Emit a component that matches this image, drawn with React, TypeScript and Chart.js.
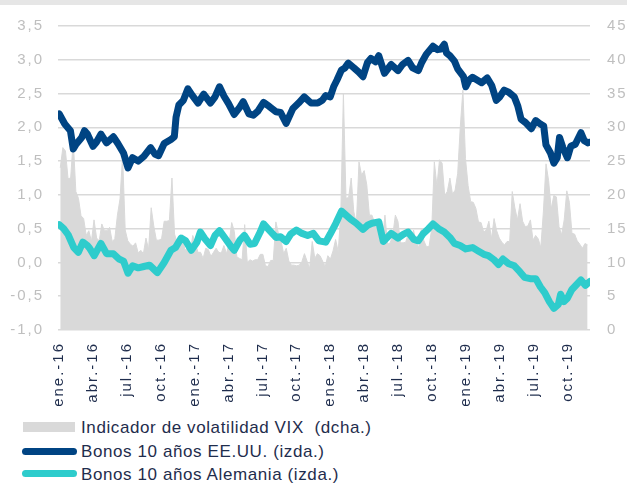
import React, { useEffect, useRef } from 'react';
import { Chart, registerables } from 'chart.js';

Chart.register(...registerables);

// X axis: months since January 2016
const TICK_MONTHS = [0, 3, 6, 9, 12, 15, 18, 21, 24, 27, 30, 33, 36, 39, 42, 45];
const TICK_LABELS = [
  'ene.-16', 'abr.-16', 'jul.-16', 'oct.-16',
  'ene.-17', 'abr.-17', 'jul.-17', 'oct.-17',
  'ene.-18', 'abr.-18', 'jul.-18', 'oct.-18',
  'ene.-19', 'abr.-19', 'jul.-19', 'oct.-19',
];

// Bonos 10 años EE.UU. (izda.) : [month, yield]
const US_10Y: [number, number][] = [
  [0, 2.2], [0.5, 2.05], [1.0, 1.95], [1.25, 1.68], [1.5, 1.75], [2.0, 1.85], [2.25, 1.95], [2.5, 1.9],
  [3.0, 1.72], [3.3, 1.78], [3.7, 1.9], [4.2, 1.77], [4.8, 1.86], [5.2, 1.76], [5.7, 1.62], [6.1, 1.4],
  [6.5, 1.55], [7.0, 1.5], [7.5, 1.57], [8.1, 1.7], [8.5, 1.6], [8.8, 1.58], [9.3, 1.76], [9.9, 1.82],
  [10.2, 1.86], [10.35, 2.15], [10.6, 2.33], [11.0, 2.4], [11.4, 2.57], [11.8, 2.47], [12.3, 2.36],
  [12.8, 2.49], [13.4, 2.36], [13.8, 2.45], [14.2, 2.6], [14.6, 2.46], [15.0, 2.35], [15.5, 2.19],
  [16.0, 2.3], [16.3, 2.38], [16.8, 2.2], [17.2, 2.18], [17.6, 2.24], [18.1, 2.37], [18.6, 2.31],
  [19.2, 2.23], [19.6, 2.22], [20.1, 2.06], [20.7, 2.28], [21.2, 2.36], [21.7, 2.45], [22.3, 2.36],
  [22.9, 2.36], [23.3, 2.4], [23.6, 2.47], [24.0, 2.45], [24.3, 2.6], [24.6, 2.7], [25.0, 2.85],
  [25.3, 2.88], [25.6, 2.95], [26.1, 2.88], [26.5, 2.82], [26.9, 2.75], [27.3, 2.96], [27.6, 3.02],
  [28.0, 2.97], [28.3, 3.06], [28.8, 2.8], [29.4, 2.93], [30.0, 2.84], [30.4, 2.93], [30.9, 2.99],
  [31.3, 2.88], [31.8, 2.84], [32.1, 2.96], [32.5, 3.08], [33.1, 3.2], [33.5, 3.15], [33.8, 3.16],
  [34.1, 3.23], [34.3, 3.1], [34.6, 3.06], [35.0, 2.98], [35.3, 2.86], [35.8, 2.75], [36.0, 2.6],
  [36.3, 2.7], [36.6, 2.74], [37.0, 2.7], [37.4, 2.66], [37.9, 2.73], [38.3, 2.62], [38.7, 2.4],
  [39.0, 2.45], [39.4, 2.55], [39.8, 2.52], [40.3, 2.45], [40.6, 2.32], [40.9, 2.12], [41.3, 2.07],
  [41.8, 1.98], [42.2, 2.1], [42.6, 2.05], [42.9, 2.02], [43.1, 1.74], [43.5, 1.62], [43.8, 1.47],
  [44.1, 1.55], [44.3, 1.85], [44.6, 1.7], [45.0, 1.55], [45.3, 1.72], [45.7, 1.75], [46.2, 1.92],
  [46.5, 1.8], [46.8, 1.77], [47.0, 1.78],
];

// Bonos 10 años Alemania (izda.) : [month, yield]
const DE_10Y: [number, number][] = [
  [0, 0.56], [0.4, 0.5], [0.8, 0.41], [1.3, 0.22], [1.7, 0.15], [2.1, 0.3], [2.5, 0.25], [2.7, 0.21],
  [3.1, 0.1], [3.7, 0.28], [4.2, 0.13], [4.8, 0.13], [5.3, 0.05], [5.7, 0.02], [6.1, -0.16], [6.5, -0.05],
  [7.0, -0.08], [7.5, -0.06], [8.0, -0.04], [8.7, -0.15], [9.3, 0.0], [9.9, 0.18], [10.3, 0.22],
  [10.8, 0.36], [11.2, 0.32], [11.7, 0.18], [12.2, 0.3], [12.5, 0.45], [12.9, 0.35], [13.4, 0.25],
  [13.8, 0.4], [14.2, 0.47], [14.6, 0.38], [15.2, 0.24], [15.5, 0.18], [16.0, 0.33], [16.4, 0.4],
  [16.9, 0.27], [17.3, 0.28], [17.8, 0.45], [18.1, 0.57], [18.6, 0.48], [19.2, 0.37], [19.6, 0.38],
  [20.1, 0.31], [20.5, 0.42], [21.0, 0.48], [21.5, 0.43], [22.0, 0.4], [22.5, 0.43], [23.0, 0.32],
  [23.6, 0.3], [24.0, 0.42], [24.5, 0.58], [25.0, 0.76], [25.4, 0.7], [25.8, 0.64], [26.3, 0.58],
  [26.9, 0.49], [27.3, 0.55], [27.7, 0.58], [28.3, 0.6], [28.7, 0.31], [29.0, 0.36], [29.4, 0.43],
  [30.0, 0.36], [30.5, 0.42], [30.9, 0.45], [31.4, 0.34], [31.8, 0.32], [32.2, 0.42], [32.7, 0.5],
  [33.1, 0.57], [33.6, 0.5], [34.1, 0.45], [34.6, 0.37], [35.0, 0.28], [35.5, 0.25], [36.0, 0.2],
  [36.6, 0.22], [37.1, 0.17], [37.6, 0.12], [38.0, 0.1], [38.5, 0.04], [38.9, -0.03], [39.3, 0.05],
  [39.8, -0.02], [40.3, -0.05], [40.8, -0.14], [41.2, -0.22], [41.7, -0.24], [42.2, -0.24],
  [42.6, -0.36], [43.0, -0.45], [43.4, -0.58], [43.8, -0.68], [44.2, -0.62], [44.4, -0.47],
  [44.7, -0.58], [45.0, -0.53], [45.4, -0.4], [45.8, -0.33], [46.2, -0.26], [46.6, -0.34], [47.0, -0.28],
];

// Indicador de volatilidad VIX (dcha.) : weekly values from the first week of January 2016
const VIX_START_MONTH = 0.1;
const VIX_WEEK_IN_MONTHS = 7 / 30.4375;
const VIX_WEEKLY = [
  // 2016
  24.0, 27.0, 26.5, 22.4, 22.5, 28.1, 20.5, 19.5, 16.9, 16.5, 14.0, 14.7,
  13.1, 16.3, 13.6, 13.2, 15.7, 14.7, 14.7, 15.2, 13.1, 13.5, 17.0, 19.4, 25.8, 14.8,
  13.2, 12.7, 12.4, 12.9, 11.4, 11.8, 11.3, 13.6, 11.9, 18.1, 15.4, 13.3, 13.3,
  13.5, 16.1, 16.1, 16.2, 22.5, 14.2, 12.9, 12.3, 14.1, 11.8, 12.2, 11.4, 14.0,
  // 2017
  12.9, 11.5, 11.5, 10.6, 12.1, 11.9, 10.9, 11.5, 12.1, 11.5, 11.4, 12.5, 11.3,
  12.9, 15.9, 14.6, 10.8, 10.6, 10.4, 15.6, 10.0, 10.4, 10.2, 10.4, 10.4, 11.2,
  11.2, 9.5, 9.4, 10.3, 10.3, 16.0, 14.3, 13.2, 11.3, 12.1, 10.2, 9.6, 9.6,
  9.5, 9.6, 10.1, 11.3, 10.2, 9.1, 13.1, 10.6, 11.3, 11.0, 10.2, 9.4, 11.0,
  // 2018
  10.5, 11.7, 13.4, 11.6, 17.3, 35.0, 19.5, 19.6, 22.5, 17.5, 15.8, 24.9, 22.9,
  23.6, 21.5, 17.0, 17.0, 15.9, 14.8, 13.4, 13.2, 17.0, 12.7, 12.9, 14.0, 17.0,
  16.1, 12.9, 12.9, 13.0, 14.3, 13.2, 14.8, 12.9, 12.2, 14.9, 13.2, 12.3, 12.4,
  15.0, 24.9, 21.3, 25.2, 24.7, 19.9, 20.5, 22.5, 20.1, 20.7, 23.2, 30.1, 35.5,
  // 2019
  25.4, 21.4, 19.0, 18.9, 18.0, 16.0, 15.9, 14.5, 14.8, 16.1, 13.5, 16.5, 14.7,
  13.6, 13.0, 12.6, 13.1, 13.1, 20.5, 18.1, 16.3, 18.7, 16.1, 15.3, 15.4, 16.3,
  13.3, 14.0, 13.5, 12.2, 17.6, 24.6, 22.1, 17.9, 19.9, 19.7, 15.3, 14.1, 16.3, 20.6,
  18.9, 14.3, 14.2, 13.2, 12.7, 12.1, 12.8, 12.6,
];

const NAVY = '#004483';
const TEAL = '#2ecccc';
const GREY_AREA = '#d9d9d9';
const TEXT_DARK = '#1f2d4d';
const TICK_GREY = '#bfbfbf';
const FONT = "'Liberation Sans', Arial, sans-serif";

const fmtLeft = (v: number) => v.toFixed(1).replace('.', ',');

export default function App() {
  const ref = useRef<HTMLCanvasElement>(null);

  useEffect(() => {
    const spacing = {
      id: 'letterSpacing',
      beforeDraw(c: any) { c.ctx.letterSpacing = '2px'; },
      afterDraw(c: any) { c.ctx.letterSpacing = '0px'; },
    };
    const chart = new Chart(ref.current!, {
      type: 'line',
      data: {
        datasets: [
          {
            label: 'Bonos 10 años EE.UU. (izda.)',
            data: US_10Y.map(([x, y]) => ({ x, y })),
            borderColor: NAVY,
            borderWidth: 7,
            pointRadius: 0,
            borderJoinStyle: 'round',
            borderCapStyle: 'round',
            yAxisID: 'y',
            fill: false,
          },
          {
            label: 'Bonos 10 años Alemania (izda.)',
            data: DE_10Y.map(([x, y]) => ({ x, y })),
            borderColor: TEAL,
            borderWidth: 7,
            pointRadius: 0,
            borderJoinStyle: 'round',
            borderCapStyle: 'round',
            yAxisID: 'y',
            fill: false,
          },
          {
            label: 'Indicador de volatilidad VIX (dcha.)',
            data: VIX_WEEKLY.map((v, i) => ({ x: VIX_START_MONTH + i * VIX_WEEK_IN_MONTHS, y: v })),
            borderColor: GREY_AREA,
            backgroundColor: GREY_AREA,
            borderWidth: 1,
            pointRadius: 0,
            yAxisID: 'y2',
            fill: 'origin',
          },
        ],
      },
      options: {
        animation: false,
        responsive: false,
        events: [],
        layout: { padding: { top: 21, left: 0, right: 0, bottom: 0 } },
        plugins: { legend: { display: false }, tooltip: { enabled: false } },
        scales: {
          x: {
            type: 'linear',
            min: -0.1,
            max: 47.0,
            afterBuildTicks: (s: any) => { s.ticks = TICK_MONTHS.map((v) => ({ value: v })); },
            afterFit: (s: any) => { s.height = 82; },
            grid: { display: false, drawTicks: false },
            border: { display: false },
            ticks: {
              autoSkip: false,
              minRotation: 90,
              maxRotation: 90,
              padding: 12,
              color: TEXT_DARK,
              font: { family: FONT, size: 15 },
              callback: (v: any) => TICK_LABELS[TICK_MONTHS.indexOf(Number(v))] ?? '',
            },
          },
          y: {
            position: 'left',
            min: -1,
            max: 3.5,
            afterFit: (s: any) => { s.width = 58; },
            grid: { color: GREY_AREA, lineWidth: 1.5, drawTicks: false },
            border: { display: false },
            ticks: {
              stepSize: 0.5,
              padding: 14,
              color: TICK_GREY,
              font: { family: FONT, size: 15 },
              callback: (v: any) => fmtLeft(Number(v)),
            },
          },
          y2: {
            position: 'right',
            min: 0,
            max: 45,
            afterFit: (s: any) => { s.width = 37; },
            grid: { display: false, drawTicks: false },
            border: { display: false },
            ticks: {
              stepSize: 5,
              padding: 17,
              color: TICK_GREY,
              font: { family: FONT, size: 15 },
            },
          },
        },
      },
      plugins: [spacing],
    } as any);
    return () => chart.destroy();
  }, []);

  const legendText: React.CSSProperties = {
    position: 'absolute',
    left: 81,
    height: 20,
    lineHeight: '20px',
    fontFamily: FONT,
    fontSize: 17,
    letterSpacing: '0.6px',
    color: TEXT_DARK,
    whiteSpace: 'pre',
  };

  return (
    <div style={{ position: 'relative', width: 627, height: 486, background: '#fff', overflow: 'hidden' }}>
      <style>{'body{margin:0}'}</style>
      <canvas ref={ref} width={627} height={412} style={{ position: 'absolute', left: 0, top: 0, width: 627, height: 412 }} />
      <div style={{ position: 'absolute', left: 0, top: 0, width: 627, height: 5, background: '#e6e6e6' }} />
      <div style={{ position: 'absolute', left: 23, top: 422, width: 52, height: 10, background: GREY_AREA }} />
      <div style={{ ...legendText, top: 418 }}>{'Indicador de volatilidad VIX  (dcha.)'}</div>
      <div style={{ position: 'absolute', left: 22, top: 447.5, width: 55, height: 7, borderRadius: 4, background: NAVY }} />
      <div style={{ ...legendText, top: 442 }}>{'Bonos 10 años EE.UU. (izda.)'}</div>
      <div style={{ position: 'absolute', left: 22, top: 469.5, width: 55, height: 7, borderRadius: 4, background: TEAL }} />
      <div style={{ ...legendText, top: 465 }}>{'Bonos 10 años Alemania (izda.)'}</div>
    </div>
  );
}
